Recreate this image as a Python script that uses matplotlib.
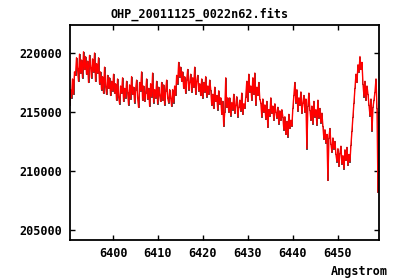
import numpy as np
import matplotlib
matplotlib.use("Agg")
import matplotlib.pyplot as plt

title = "OHP_20011125_0022n62.fits"
xlabel = "Angstrom"
wl_start = 6390.3
wl_end = 6459.2

# flux in units of 1000 counts (left to right)
flux_k = [
    215.6, 216.9, 216.2, 217.8, 216.5, 218.4,
    218.1, 219.6, 218.7, 217.6, 219.9, 218.3, 219.4, 217.9, 220.1, 218.6,
    219.7, 218.2, 219.3, 217.5, 219.8, 218.8, 217.9, 219.5, 218.4, 220.0,
    217.6, 219.1, 218.3, 219.6, 217.4,
    218.4, 216.9, 218.0, 216.6, 218.8, 217.2, 216.5, 218.1, 217.0, 217.9,
    216.4, 217.6, 216.8, 218.2, 216.6,
    217.4, 216.0, 217.8, 216.3, 215.7, 217.2, 216.6, 217.9, 215.9, 217.0,
    216.2, 217.6, 216.7, 215.6, 217.3, 216.1, 218.0, 216.5, 217.1, 215.8,
    216.9, 217.7, 216.2, 215.4, 217.5, 216.8, 218.4, 216.0, 217.2, 215.9,
    216.6, 217.8, 216.1, 217.0, 215.5, 217.4, 216.3, 218.3, 215.8, 216.9,
    216.2, 217.6, 215.7, 217.1, 216.4, 215.9, 217.5, 216.0, 217.3, 215.6,
    216.8, 217.7, 216.2, 215.8, 216.9,
    216.2, 215.5, 216.9, 215.8, 217.2, 216.4,
    218.1, 217.4, 219.2, 218.0, 218.8, 217.6,
    218.4, 217.0, 218.0, 216.6, 217.7, 218.6, 216.9, 217.5, 218.2, 216.7,
    217.9, 217.1, 218.8, 216.5, 217.6, 218.1, 216.8, 217.4,
    216.4, 217.8, 216.2, 217.5, 216.7, 218.0, 216.3, 217.2, 216.5, 217.7,
    216.9, 215.6, 216.5, 215.3, 217.1, 215.9, 216.4, 215.2, 216.8, 215.7,
    216.2, 214.8, 215.9, 213.8,
    215.0, 217.9, 215.4, 216.2,
    215.0, 216.2, 214.7, 215.8, 215.2, 216.5, 214.9, 215.6, 216.3, 214.6,
    215.4, 216.0, 215.1, 216.6, 214.8, 215.7, 215.3,
    216.3, 217.6, 215.9, 218.2, 216.7, 217.2, 216.0, 217.9, 216.5, 218.3,
    215.6, 217.1, 216.4, 217.5, 216.1,
    215.8, 214.6, 216.1, 215.0, 215.6, 214.4, 215.9, 213.7, 215.2, 214.7,
    216.2, 214.9, 215.5, 214.3, 215.7, 215.0,
    214.5, 215.4, 214.0, 215.1, 214.3, 215.2, 214.6,
    213.5, 214.6, 213.1, 214.2, 212.9, 214.8, 213.6, 214.3, 213.8,
    215.3, 216.4, 217.5, 215.8, 216.9, 215.1, 216.2, 215.6, 216.7, 214.9,
    215.8, 216.4, 215.0, 216.1, 211.9, 215.5, 216.6, 215.2,
    214.3, 215.5, 214.0, 215.9, 214.6, 215.2, 213.9, 216.0, 214.5, 215.3,
    214.1, 214.9,
    213.8, 212.7, 213.5, 212.4, 213.1, 209.2, 212.8, 213.6,
    212.3, 211.6, 212.8, 211.9, 212.5, 211.4,
    210.8, 211.9, 210.4, 211.5, 212.1, 210.6, 211.3, 210.2, 211.8, 210.9,
    212.0, 210.5, 211.4, 210.8,
    212.2, 213.4, 214.6, 215.8,
    217.0, 218.2, 217.5, 219.0, 218.4, 219.7, 218.6, 219.2,
    217.4, 216.3, 217.6, 216.0, 217.2, 216.5,
    215.6, 214.7, 216.1, 213.4, 215.4, 216.0,
    216.7, 217.8, 215.3, 208.2, 214.9,
]

yticks = [205000, 210000, 215000, 220000]
xticks = [6400, 6410, 6420, 6430, 6440, 6450]

flux = np.array(flux_k) * 1000.0
wl = np.linspace(wl_start, wl_end, len(flux))

plt.rcParams['font.family'] = ['DejaVu Sans Mono']
plt.rcParams['font.weight'] = 'bold'

fig = plt.figure(figsize=(4.0, 2.8), dpi=100)
ax = fig.add_axes([69.5/400, 1 - 240/280, (379 - 69.5)/400, (240 - 25)/280])

ax.plot(wl, flux, color='black', lw=0.5, drawstyle='steps-mid')
ax.plot(wl, flux, color='#ff0000', lw=1.0)

ax.set_xlim(wl_start, wl_end)
ax.set_ylim(204150, 222370)
ax.set_xticks(xticks)
ax.set_yticks(yticks)
ax.set_xticklabels([str(t) for t in xticks])
ax.set_yticklabels([str(t) for t in yticks])
ax.tick_params(direction='in', length=3.5, width=1.0, top=True, right=True,
               labelsize=8.5, colors='black')
ax.tick_params(axis='y', pad=5)
ax.tick_params(axis='x', pad=5)
for s in ax.spines.values():
    s.set_linewidth(1.3)
    s.set_color('black')

fig.text(0.5, 1 - 14/280, title, ha='center', va='center', fontsize=8.5,
         fontweight='bold')
fig.text(388/400, 1 - 271/280, xlabel, ha='right', va='center', fontsize=8.5,
         fontweight='bold')

fig.savefig('out.png', dpi=100)
